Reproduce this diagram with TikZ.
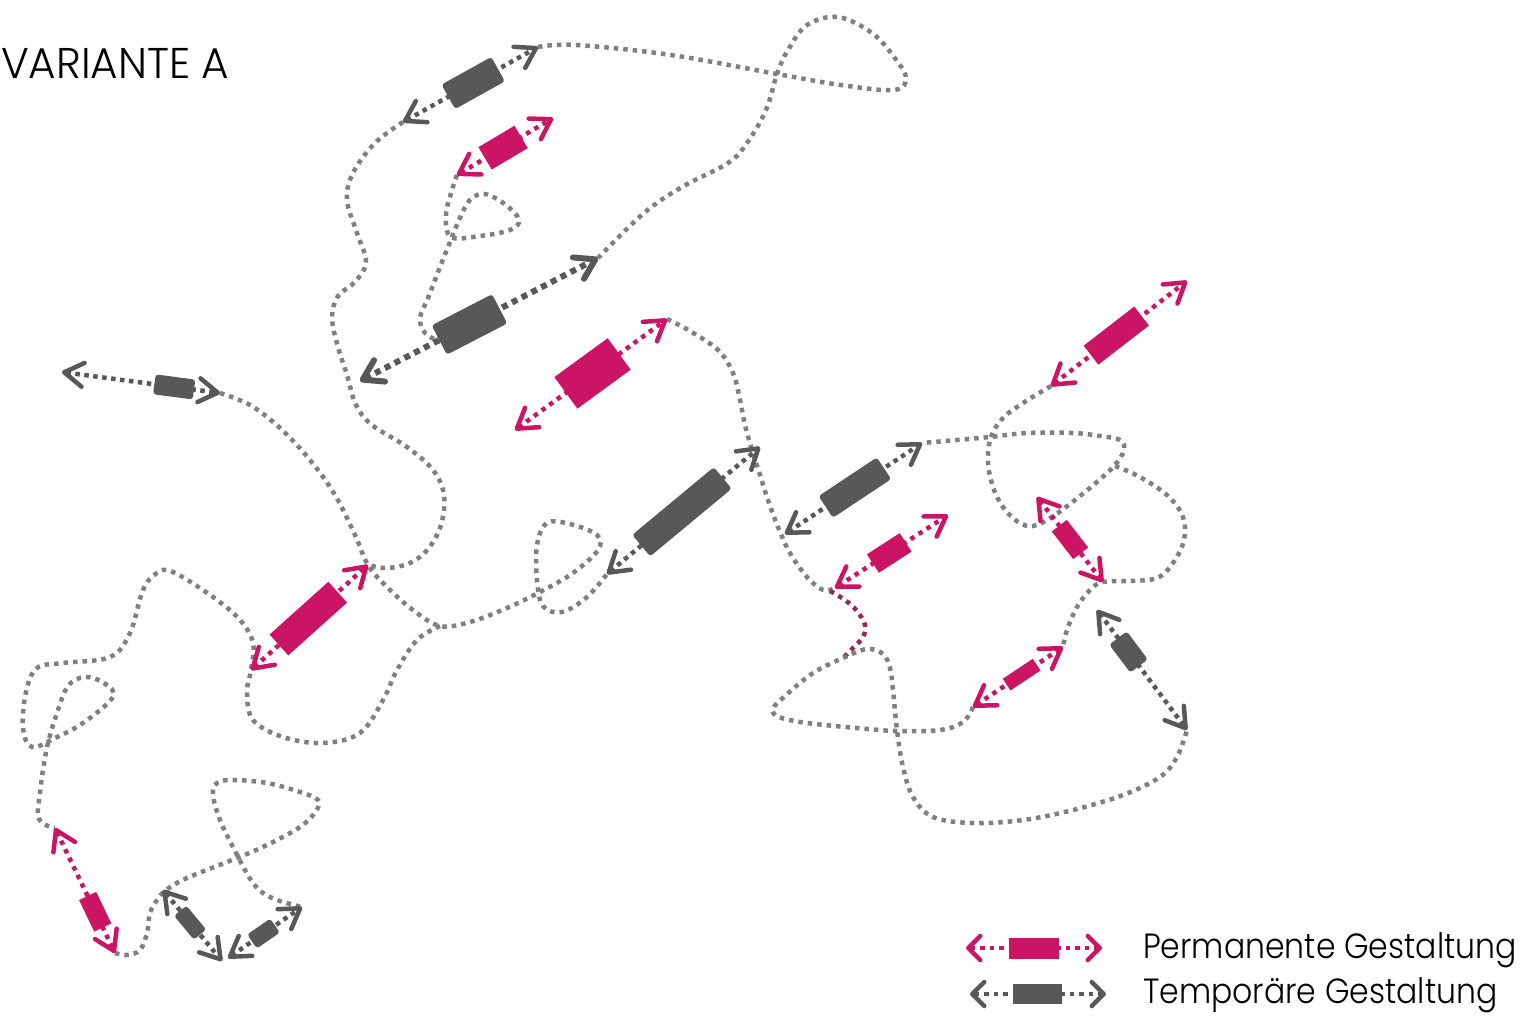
\documentclass[tikz,border=0pt]{standalone}
\usepackage{fontspec}
\setmainfont{Poppins Light}
\usetikzlibrary{arrows.meta}
\definecolor{pmag}{RGB}{204,20,100}
\definecolor{tgray}{RGB}{88,88,88}
\definecolor{cgray}{RGB}{128,128,128}
\definecolor{cmaroon}{RGB}{150,40,85}
\tikzset{
  legtip/.tip={Straight Barb[length=12pt,width=24pt,round]},
  curve/.style={draw=cgray, line width=4.5pt, dash pattern=on 4.5pt off 5pt},
  mcurve/.style={draw=cmaroon, line width=4.5pt, dash pattern=on 4.5pt off 5pt},
  pline/.style={draw=pmag, line width=4.5pt, dash pattern=on 4.5pt off 5pt, <->},
  tline/.style={draw=tgray, line width=4.5pt, dash pattern=on 4.5pt off 4.5pt, <->},
  tlinebig/.style={draw=tgray, line width=6pt, dash pattern=on 6pt off 5pt, <->},
  legp/.style={draw=pmag, line width=4.5pt, dash pattern=on 4.5pt off 5pt, legtip-legtip},
  legt/.style={draw=tgray, line width=4.5pt, dash pattern=on 4.5pt off 5pt, legtip-legtip},
  prect/.style={fill=pmag, draw=none, inner sep=0pt, sloped, solid},
  trect/.style={fill=tgray, draw=none, inner sep=0pt, sloped, rounded corners=3pt, solid},
  lbl/.style={anchor=base west, inner sep=0pt, text=black}
}
\begin{document}
\begin{tikzpicture}[x=1pt,y=-1pt,>={Straight Barb[length=19pt,width=24pt,round]}]
\useasboundingbox (0,0) rectangle (1525,1023);

% arrow end points
\coordinate (g1a) at (403,122); \coordinate (g1b) at (538,47);
\coordinate (g2a) at (360,381); \coordinate (g2b) at (598,258);
\coordinate (g3a) at (62,372);  \coordinate (g3b) at (220,393);
\coordinate (g4a) at (607,574); \coordinate (g4b) at (760,447);
\coordinate (g5a) at (785,534); \coordinate (g5b) at (922,443);
\coordinate (g6a) at (1097,610); \coordinate (g6b) at (1187,730);
\coordinate (g7a) at (163,890); \coordinate (g7b) at (222,961);
\coordinate (g8a) at (228,958); \coordinate (g8b) at (302,907);
\coordinate (m1a) at (457,175); \coordinate (m1b) at (553,118);
\coordinate (m2a) at (515,430); \coordinate (m2b) at (667,319);
\coordinate (m3a) at (251,670); \coordinate (m3b) at (368,565);
\coordinate (m4a) at (1051,386); \coordinate (m4b) at (1187,281);
\coordinate (m5a) at (835,588); \coordinate (m5b) at (948,515);
\coordinate (m6a) at (1037,497); \coordinate (m6b) at (1103,582);
\coordinate (m7a) at (973,707); \coordinate (m7b) at (1063,647);
\coordinate (m8a) at (55,828); \coordinate (m8b) at (115,953);
\coordinate (lpa) at (966,948); \coordinate (lpb) at (1102,948);
\coordinate (lta) at (970,994); \coordinate (ltb) at (1106,994);

% wandering dotted paths
\draw[curve] plot[smooth, tension=0.6] coordinates {(g1b) (576,45) (671,55) (777,74) (841,85) (894,90) (906,78) (894,57) (872,33) (838,17) (807,25) (788,50) (777,74) (766,110) (747,143) (728,163) (682,187) (644,213) (g2b)};
\draw[curve] plot[smooth, tension=0.6] coordinates {(g1a) (375,143) (353,173) (347,200) (357,233) (366,262) (355,282) (338,296) (332,318) (338,347) (347,375) (356,405) (372,425) (407,447) (433,470) (444,495) (441,525) (428,549) (410,563) (387,568) (m3b)};
\draw[curve] plot[smooth, tension=0.6] coordinates {(m1a) (452,190) (446,215) (451,237) (480,236) (510,230) (519,220) (506,205) (485,194) (470,200) (459,220) (450,242) (440,267) (428,298) (420,318) (425,333) (440,342)};
\draw[curve] plot[smooth, tension=0.6] coordinates {(g3b) (250,405) (280,428) (310,460) (335,495) (355,535) (m3b) (387,587) (413,610) (440,626) (470,622) (507,608) (540,592) (573,573) (598,550) (597,535) (570,524) (547,523) (537,545) (537,580) (543,606) (562,612) (587,597) (g4a)};
\draw[curve] plot[smooth, tension=0.6] coordinates {(440,626) (417,640) (397,670) (383,700) (360,733) (323,743) (283,737) (253,720) (247,692) (m3a) (253,643) (240,620) (213,597) (173,572) (157,573) (143,590) (130,633) (110,657) (63,663) (37,668) (26,692) (23,728) (32,747) (55,738) (83,723) (113,697) (104,683) (85,677) (68,686) (57,713) (48,743) (43,770) (40,793) (38,815) (44,824) (m8a)};
\draw[curve] plot[smooth, tension=0.6] coordinates {(m8b) (127,955) (140,950) (147,933) (150,913) (157,900) (166,890) (187,878) (237,858) (267,845) (300,827) (316,811) (318,800) (300,792) (267,783) (233,780) (217,783) (213,795) (220,820) (233,847) (253,883) (272,898) (g8b)};
\draw[curve] plot[smooth, tension=0.6] coordinates {(m2b) (690,331) (718,350) (733,373) (740,400) (745,425) (752,450) (760,475) (768,500) (778,527) (790,553) (807,577) (823,590) (m5a)};
\draw[mcurve] plot[smooth, tension=0.6] coordinates {(830,591) (845,600) (857,611) (865,625) (863,637) (853,648) (843,658)};
\draw[curve] plot[smooth, tension=0.6] coordinates {(m7a) (963,722) (940,730) (897,731) (857,728) (807,723) (779,717) (773,709) (785,696) (813,673) (843,658) (867,649) (883,654) (890,668) (893,690) (897,730) (903,767) (913,797) (933,817) (973,823) (1023,820) (1073,810) (1123,795) (1160,777) (1177,757) (g6b)};
\draw[curve] plot[smooth, tension=0.6] coordinates {(m4a) (1023,403) (1003,418) (991,437) (988,462) (993,487) (1003,507) (1018,522) (1033,526) (1052,517) (1075,500) (1098,481) (1115,465) (1124,450) (1120,440) (1100,436) (1073,433) (1027,433) (990,437) (957,440) (g5b)};
\draw[curve] plot[smooth, tension=0.6] coordinates {(1115,466) (1140,477) (1168,496) (1183,517) (1184,540) (1173,563) (1157,578) (1130,581) (m6b) (1090,590) (1077,607) (1067,630) (m7b)};

% temporary (grey) interventions
\draw[tline] (g1a) -- node[trect, pos=0.52, minimum width=57pt, minimum height=28pt] (g1) {} (g1b);
\draw[tlinebig] (g2a) -- node[trect, pos=0.46, minimum width=68pt, minimum height=33pt] (g2) {} (g2b);
\draw[tline] (g3a) -- node[trect, pos=0.71, minimum width=40pt, minimum height=20pt] (g3) {} (g3b);
\draw[tline] (g4a) -- node[trect, pos=0.49, minimum width=106pt, minimum height=28pt] (g4) {} (g4b);
\draw[tline] (g5a) -- node[trect, pos=0.51, minimum width=70pt, minimum height=26pt] (g5) {} (g5b);
\draw[tline] (g6a) -- node[trect, pos=0.35, minimum width=35pt, minimum height=22pt] (g6) {} (g6b);
\draw[tline] (g7a) -- node[trect, pos=0.46, minimum width=31pt, minimum height=16pt] (g7) {} (g7b);
\draw[tline] (g8a) -- node[trect, pos=0.48, minimum width=28pt, minimum height=17pt] (g8) {} (g8b);

% permanent (magenta) interventions
\draw[pline] (m1a) -- node[prect, pos=0.48, minimum width=42pt, minimum height=26pt] (m1) {} (m1b);
\draw[pline] (m2a) -- node[prect, pos=0.51, minimum width=66pt, minimum height=39pt] (m2) {} (m2b);
\draw[pline] (m3a) -- node[prect, pos=0.49, minimum width=79pt, minimum height=28pt] (m3) {} (m3b);
\draw[pline] (m4a) -- node[prect, pos=0.48, minimum width=64pt, minimum height=24pt] (m4) {} (m4b);
\draw[pline] (m5a) -- node[prect, pos=0.48, minimum width=39pt, minimum height=22pt] (m5) {} (m5b);
\draw[pline] (m6a) -- node[prect, pos=0.50, minimum width=35pt, minimum height=19pt] (m6) {} (m6b);
\draw[pline] (m7a) -- node[prect, pos=0.54, minimum width=36pt, minimum height=14pt] (m7) {} (m7b);
\draw[pline] (m8a) -- node[prect, pos=0.67, minimum width=35pt, minimum height=19pt] (m8) {} (m8b);

% title
\node[lbl, font=\fontsize{43}{43}\selectfont] (title) at (1,78) {\scalebox{0.98}[1]{VARIANTE A}};

% legend
\draw[legp] (lpa) -- node[prect, pos=0.5, minimum width=50pt, minimum height=21pt] (lp) {} (lpb);
\draw[legt] (lta) -- node[trect, pos=0.496, minimum width=49pt, minimum height=20pt, rounded corners=0pt] (lt) {} (ltb);
\node[lbl, font=\fontsize{35}{35}\selectfont] (lpt) at (1143,958) {\scalebox{0.9}[1]{Permanente Gestaltung}};
\node[lbl, font=\fontsize{35}{35}\selectfont] (ltt) at (1143,1003) {\scalebox{0.9}[1]{Temporäre Gestaltung}};
\end{tikzpicture}
\end{document}
